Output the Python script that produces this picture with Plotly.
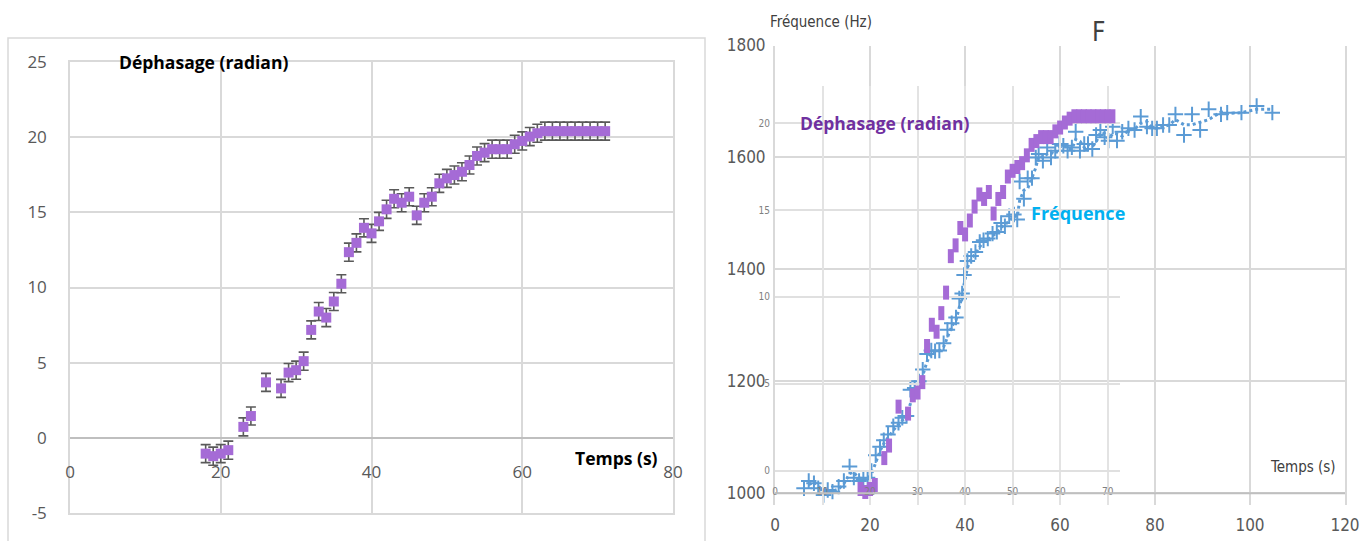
import plotly.graph_objects as go
import pandas as pd

W, H = 1366, 541

# ---------------- data ----------------
t_phase = [18, 19, 20, 21, 23, 24, 26, 28, 29, 30, 31, 32, 33, 34, 35, 36, 37, 38, 39, 40,
           41, 42, 43, 44, 45, 46, 47, 48, 49, 50, 51, 52, 53, 54, 55, 56, 57, 58, 59, 60,
           61, 62, 63, 64, 65, 66, 67, 68, 69, 70, 71]
phase = [-1.05, -1.22, -1.05, -0.82, 0.73, 1.45, 3.69, 3.29, 4.34, 4.5, 5.1, 7.18, 8.4, 8.0,
         9.07, 10.25, 12.35, 12.97, 13.97, 13.6, 14.4, 15.2, 15.9, 15.64, 16.04, 14.8, 15.64,
         16.04, 16.93, 17.26, 17.48, 17.7, 18.15, 18.75, 18.97, 19.2, 19.2, 19.2, 19.53, 19.75,
         20.04, 20.26, 20.4, 20.4, 20.4, 20.4, 20.4, 20.4, 20.4, 20.4, 20.4]
phase_err = [0.6] * len(phase)

phase_ticks = [-5, 0, 5, 10, 15, 20, 25]
phase_ticklabels = ["-5", "0", "5", "10", "15", "20", "25"]

t_freq = [6.1, 7.1, 8.2, 9.1, 10.2, 11.1, 12.1, 13.4, 14.5, 15.7,
          16.6, 17.7, 18.6, 19.5, 20.3, 21.2, 22.1, 22.9, 23.8, 24.9,
          26.0, 26.8, 27.7, 28.5, 29.4, 30.3, 31.1, 32.0, 32.9, 33.7,
          34.6, 35.5, 36.3, 37.2, 38.1, 38.8, 39.4, 39.8, 40.5, 41.3,
          42.2, 43.1, 43.9, 44.8, 45.8, 46.7, 47.6, 48.4, 49.3, 50.3,
          51.0, 51.5, 52.4, 53.2, 54.1, 54.9, 55.5, 56.4, 57.3, 58.1,
          59.0, 59.9, 60.7, 61.6, 62.5, 63.3, 64.2, 65.1, 65.9, 66.8,
          67.6, 68.5, 69.4, 70.2, 71.1, 72.0, 73.1, 74.4, 75.7, 77.0,
          78.3, 79.4, 80.4, 81.7, 83.0, 84.3, 86.1, 87.8, 89.5, 91.3,
          93.9, 95.2, 98.2, 101.4, 104.7]
freq = [1009, 1022, 1018, 1009, 997, 1006, 1003, 1012, 1022, 1048,
        1028, 1022, 1025, 1028, 1040, 1068, 1083, 1095, 1105, 1120,
        1126, 1135, 1138, 1185, 1188, 1200, 1221, 1249, 1255, 1254,
        1255, 1268, 1292, 1304, 1314, 1348, 1357, 1390, 1415, 1424,
        1431, 1449, 1452, 1455, 1464, 1467, 1483, 1477, 1495, 1498,
        1489, 1557, 1526, 1563, 1563, 1600, 1606, 1594, 1618, 1600,
        1612, 1624, 1621, 1612, 1618, 1646, 1612, 1624, 1624, 1615,
        1640, 1649, 1636, 1630, 1655, 1630, 1646, 1652, 1649, 1673,
        1655, 1652, 1652, 1658, 1658, 1677, 1640, 1677, 1649, 1686,
        1677, 1680, 1680, 1692, 1680]
# Excel-style moving average trendline (period 2) derived from the data
freq_ma = pd.Series(freq).rolling(2).mean()

# ---------------- helpers (pixel -> paper) ----------------
def px(x):
    return x / W

def py(y):
    return 1 - y / H

GRID = "#D9D9D9"
TICK = "#595959"
PURPLE = "#A56BD6"
BLUE = "#5B9BD5"
NARROW = "DejaVu Sans Condensed, Liberation Sans Narrow, Roboto, sans-serif"
SANS = "Open Sans, Noto Sans, sans-serif"

fig = go.Figure()

# left chart : phase with error bars
fig.add_trace(go.Scatter(
    x=t_phase, y=phase, mode="markers", xaxis="x", yaxis="y",
    marker=dict(symbol="square", size=10, color=PURPLE),
    error_y=dict(type="data", array=phase_err, color="#595959", thickness=1.6, width=5),
    showlegend=False, hoverinfo="x+y"))
# carrier for the left tick-label axis placed on the y=0 line
fig.add_trace(go.Scatter(x=[None], y=[None], xaxis="x4", yaxis="y", mode="markers",
                         showlegend=False, hoverinfo="skip"))

# right chart : frequency
fig.add_trace(go.Scatter(
    x=t_freq, y=freq_ma, mode="lines", xaxis="x2", yaxis="y2",
    line=dict(color=BLUE, width=3, dash="dot"), showlegend=False, hoverinfo="skip"))
fig.add_trace(go.Scatter(
    x=t_freq, y=freq, mode="markers", xaxis="x2", yaxis="y2",
    marker=dict(symbol="cross-thin", size=11, line=dict(color=BLUE, width=2)),
    showlegend=False))

# right chart : phase overlay (same data, own scale)
fig.add_trace(go.Scatter(
    x=t_phase, y=phase, mode="markers", xaxis="x3", yaxis="y3",
    marker=dict(symbol="line-ns", size=10, line=dict(color=PURPLE, width=6)),
    showlegend=False))
fig.add_trace(go.Scatter(x=[None], y=[None], xaxis="x5", yaxis="y3", mode="markers",
                         showlegend=False, hoverinfo="skip"))

ax_common = dict(showgrid=True, gridcolor=GRID, gridwidth=1.5, zeroline=False,
                 ticks="", fixedrange=True, automargin=False)

fig.update_layout(
    width=W, height=H,
    margin=dict(l=0, r=0, t=0, b=0, pad=0, autoexpand=False),
    paper_bgcolor="white", plot_bgcolor="rgba(0,0,0,0)", showlegend=False,
    # ---- left chart axes
    xaxis=dict(ax_common, domain=[px(70), px(673)], range=[0, 80], dtick=20,
               anchor="y", showticklabels=False, showline=True, mirror=True,
               linecolor=GRID, linewidth=1.5),
    yaxis=dict(ax_common, domain=[py(513), py(62)], range=[-5, 25],
               tickmode="array", tickvals=phase_ticks, ticktext=phase_ticklabels,
               anchor="x", showline=True, mirror=True, linecolor=GRID, linewidth=1.5,
               zeroline=True, zerolinecolor="#BFBFBF", zerolinewidth=1.5,
               tickfont=dict(family=SANS, size=17, color=TICK), ticklabelstandoff=18),
    xaxis4=dict(overlaying="x", anchor="free", position=py(438), range=[0, 80], dtick=20,
                showgrid=False, zeroline=False, showline=False, ticks="",
                tickfont=dict(family=SANS, size=17, color=TICK), ticklabelstandoff=22,
                fixedrange=True, automargin=False),
    # ---- right chart main axes
    xaxis2=dict(ax_common, domain=[px(775), px(1345)], range=[0, 120], dtick=20,
                anchor="y2", gridwidth=2,
                tickfont=dict(family=NARROW, size=17, color=TICK), ticklabelstandoff=8),
    yaxis2=dict(ax_common, domain=[py(504.5), py(45.5)], range=[980, 1800], dtick=200,
                tick0=0, anchor="x2", gridwidth=2, showline=True, mirror=True,
                linecolor=GRID, linewidth=2,
                tickfont=dict(family=NARROW, size=17, color=TICK), ticklabelstandoff=4),
    # ---- right chart overlay axes (phase)
    xaxis3=dict(ax_common, domain=[px(775), px(1120)], range=[0, 72.6], dtick=10,
                anchor="y3", showticklabels=False, gridcolor="#E3E3E3"),
    yaxis3=dict(ax_common, domain=[py(505), py(86)], range=[-1.97, 22.14], dtick=5,
                anchor="x3", gridcolor="#E0E0E0",
                tickfont=dict(family=NARROW, size=10, color="#7F7F7F"), ticklabelstandoff=4),
    xaxis5=dict(overlaying="x3", anchor="free", position=py(470.7), range=[0, 72.6], dtick=10,
                showgrid=False, zeroline=False, showline=False, ticks="",
                tickfont=dict(family=NARROW, size=10, color="#7F7F7F"), ticklabelstandoff=13,
                fixedrange=True, automargin=False),
)

# frames and axis line
fig.add_shape(type="rect", xref="paper", yref="paper", x0=px(8), x1=px(705), y0=-0.02,
              y1=py(38), line=dict(color=GRID, width=1.5), layer="below")
fig.add_shape(type="line", xref="x2 domain", yref="y2", x0=0, x1=1, y0=1000, y1=1000,
              line=dict(color="#BFBFBF", width=2))

# texts
ann = [
    dict(x=px(203), y=py(62), text="<b>Déphasage (radian)</b>",
         font=dict(family=SANS, size=17.5, color="#000000")),
    dict(x=px(616), y=py(458), text="<b>Temps (s)</b>",
         font=dict(family=SANS, size=17.5, color="#000000")),
    dict(x=px(821), y=py(22), text="Fréquence (Hz)",
         font=dict(family=NARROW, size=15, color="#404040")),
    dict(x=px(1098), y=py(32), text="F",
         font=dict(family=NARROW, size=26, color="#404040")),
    dict(x=px(884), y=py(123), text="<b>Déphasage (radian)</b>",
         font=dict(family=SANS, size=17.5, color="#7030A0")),
    dict(x=px(1078), y=py(213), text="<b>Fréquence</b>",
         font=dict(family=SANS, size=18, color="#00B0F0")),
    dict(x=px(1303), y=py(467), text="Temps (s)",
         font=dict(family=NARROW, size=15, color="#404040")),
]
for a in ann:
    fig.add_annotation(xref="paper", yref="paper", showarrow=False,
                       xanchor="center", yanchor="middle", **a)

fig.write_html("out.html")
